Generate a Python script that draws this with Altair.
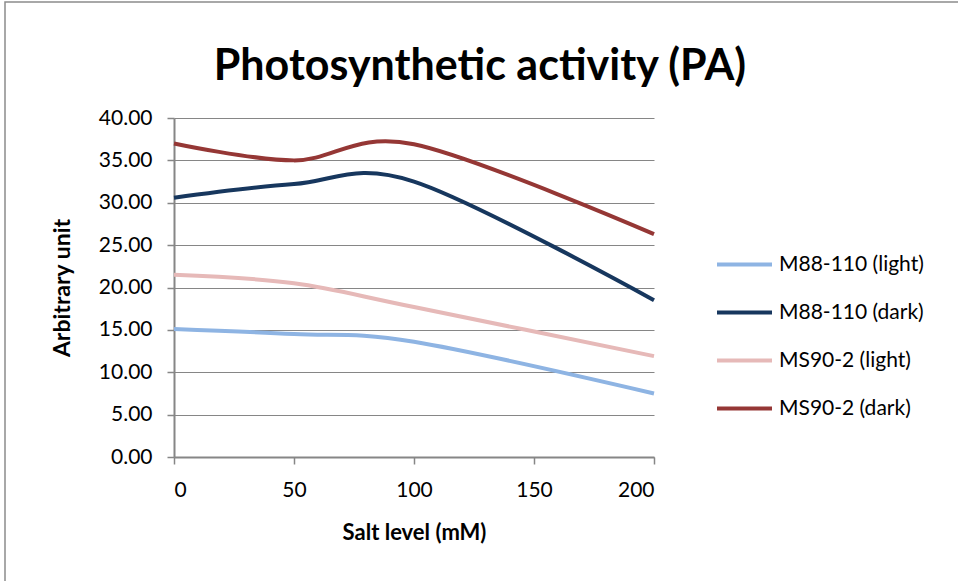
import altair as alt
import pandas as pd

# Salt treatment levels (mM)
salt = [0, 50, 100, 200]

# Photosynthetic activity per cultivar and condition
series_names = ["M88-110 (light)", "M88-110 (dark)", "MS90-2 (light)", "MS90-2 (dark)"]
m88_light = [15.1, 14.5, 13.6, 7.5]
m88_dark = [30.6, 32.2, 32.5, 18.5]
ms90_light = [21.5, 20.5, 17.7, 11.9]
ms90_dark = [37.0, 35.0, 36.9, 26.3]
series_colors = ["#8EB4E3", "#17375E", "#E6B9B8", "#953735"]

x_ticks = [0, 50, 100, 150, 200]
y_ticks = [0, 5, 10, 15, 20, 25, 30, 35, 40]

rows = []
for name, vals in zip(series_names, [m88_light, m88_dark, ms90_light, ms90_dark]):
    for s, v in zip(salt, vals):
        rows.append({"salt": s, "value": v, "series": name})
df = pd.DataFrame(rows)

FONT = "Lato"
GRAY = "#868686"
W, H = 480, 339
PAD = {"left": 174, "top": 118, "right": 958 - 174 - W, "bottom": 581 - 118 - H}

lines = alt.Chart(df).mark_line(
    interpolate="cardinal", tension=0, strokeWidth=4
).encode(
    x=alt.X(
        "salt:Q",
        scale=alt.Scale(domain=[0, 200], nice=False),
        axis=alt.Axis(
            values=x_ticks, title="Salt level (mM)", grid=False,
            domainColor=GRAY, domainWidth=2, tickColor=GRAY, tickWidth=1.5, tickSize=7,
            labelFont=FONT, labelFontSize=21, labelColor="#000000", labelPadding=15,
            titleFont=FONT, titleFontSize=22, titleFontWeight="bold", titleColor="#000000",
            titleX=W / 2, titleY=75, titleBaseline="middle", titleAlign="center",
        ),
    ),
    y=alt.Y(
        "value:Q",
        scale=alt.Scale(domain=[0, 40], nice=False),
        axis=alt.Axis(
            values=y_ticks, format=".2f", title="Arbitrary unit", grid=True,
            gridColor=GRAY, gridWidth=1,
            domainColor=GRAY, domainWidth=2, tickColor=GRAY, tickWidth=1.5, tickSize=7,
            labelFont=FONT, labelFontSize=21, labelColor="#000000", labelPadding=15,
            titleFont=FONT, titleFontSize=23, titleFontWeight="bold", titleColor="#000000",
            titleX=-112, titleY=H / 2, titleAngle=270, titleBaseline="middle", titleAlign="center",
        ),
    ),
    color=alt.Color(
        "series:N",
        scale=alt.Scale(domain=series_names, range=series_colors),
        legend=alt.Legend(
            title=None, orient="none", legendX=541, legendY=117,
            symbolType="stroke", symbolSize=3025, symbolStrokeWidth=4,
            labelFont=FONT, labelFontSize=21, labelColor="#000000",
            labelOffset=5, rowPadding=8,
        ),
    ),
)

# Outer frame of the chart area
frame = alt.Chart(alt.Data(values=[{}])).mark_rect(
    fillOpacity=0, stroke="#8c8c8c", strokeWidth=1.5
).encode(
    x=alt.value(5 - 174), y=alt.value(2 - 118),
    x2=alt.value(958 - 174 + 10), y2=alt.value(581 - 118 + 10),
)

# The title is laid out above the frame's top edge, so it is pushed down into the chart area
chart = alt.layer(frame, lines).properties(
    width=W, height=H,
    padding=PAD,
    autosize=alt.AutoSizeParams(type="none"),
    background="white",
    title=alt.TitleParams(
        "Photosynthetic activity (PA)", font=FONT, fontSize=43, fontWeight="bold",
        color="#000000", anchor="middle", dx=66, offset=4, dy=92,
    ),
).configure_view(strokeWidth=0)

chart.save("out.html", embed_options={"renderer": "svg", "actions": False})
